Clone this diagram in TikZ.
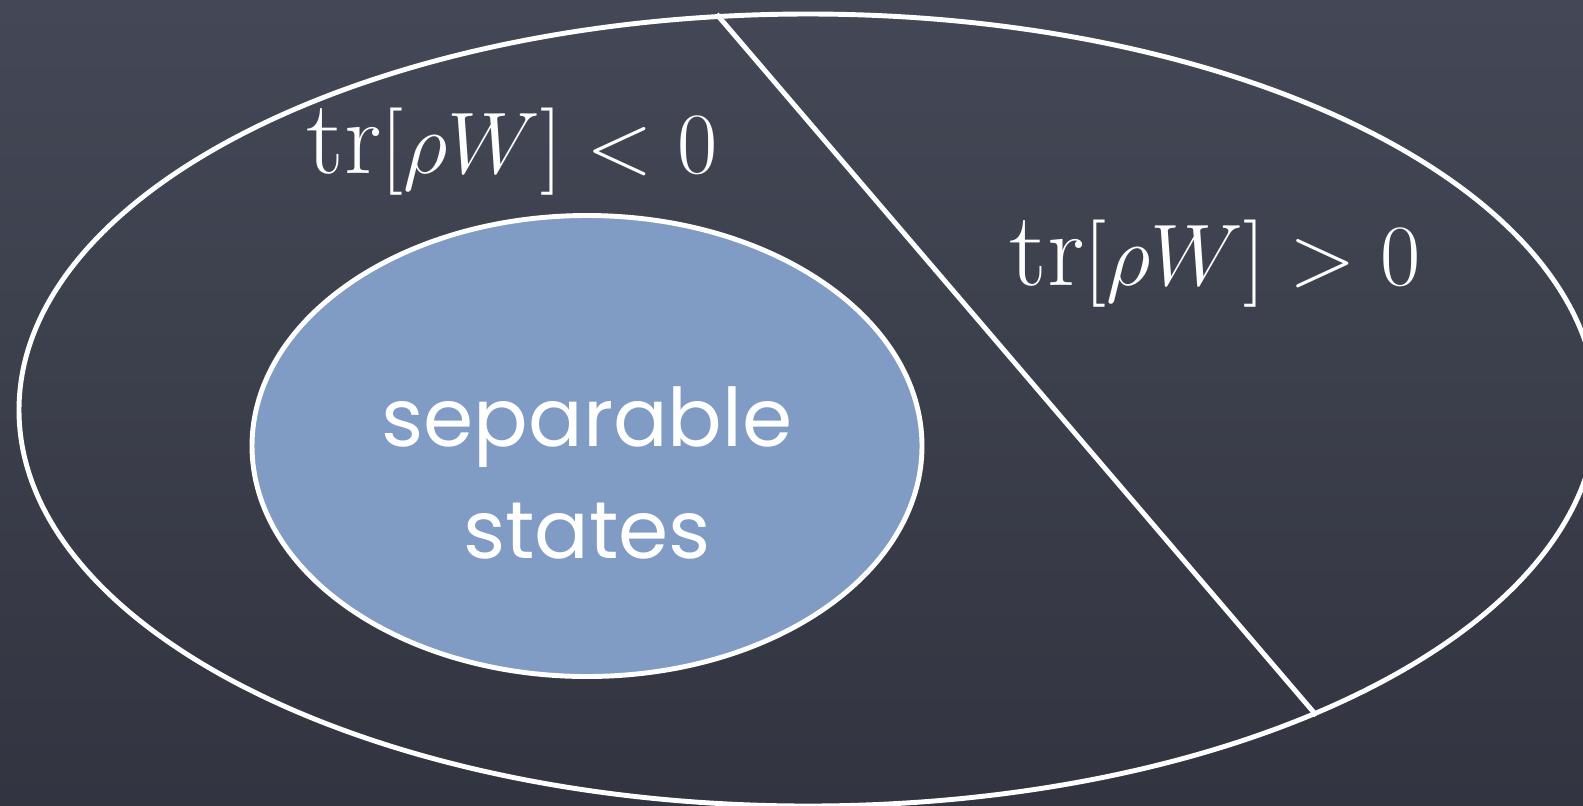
\documentclass[tikz,border=0pt]{standalone}
\usepackage{fontspec}
\usepackage{amsmath}
\usepackage{tikz}
\usetikzlibrary{positioning, shapes.geometric, backgrounds}
\newfontfamily\chalkfont{Poppins}
\definecolor{boardtop}{RGB}{68, 72, 86}
\definecolor{boardbot}{RGB}{50, 53, 64}
\definecolor{sepblue}{RGB}{128, 156, 196}
\definecolor{chalk}{RGB}{255, 255, 255}

\begin{document}
\begin{tikzpicture}[
    region/.style={ellipse, draw=chalk, line width=1.4pt, inner sep=0pt},
    witness/.style={draw=chalk, line width=1.4pt},
    tlabel/.style={text=chalk, font=\fontsize{30}{34}\selectfont}
  ]
  % board
  \fill[top color=boardtop, bottom color=boardbot] (0,0) rectangle (15.83,-8.05);
  \useasboundingbox (0,0) rectangle (15.83,-8.05);
  \clip (0,0) rectangle (15.83,-8.05);

  % all states
  \node[region, minimum width=15.78cm, minimum height=7.92cm] (allstates) at (8.08,-4.10) {};

  % separable states
  \node[region, fill=sepblue, minimum width=6.70cm, minimum height=4.61cm] (sep) at (5.87,-4.46) {};
  \node[text=chalk, align=center, font=\chalkfont\fontsize{23}{32}\selectfont] (seplabel) at (5.87,-4.73) {separable\\states};

  % witness hyperplane
  \draw[witness] (allstates.103.2) -- (allstates.-31);

  \node[tlabel] (neg) at (5.12,-1.52) {$\mathrm{tr}[\rho W] < 0$};
  \node[tlabel] (pos) at (12.15,-2.64) {$\mathrm{tr}[\rho W] > 0$};
\end{tikzpicture}
\end{document}
